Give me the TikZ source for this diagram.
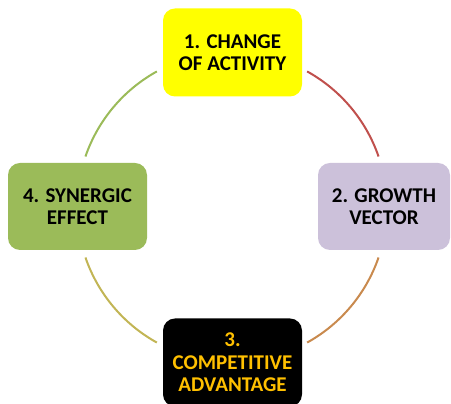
\documentclass[tikz,border=0pt]{standalone}
\usepackage{fontspec}
\setmainfont{Carlito}
\usetikzlibrary{calc}

\definecolor{boxyellow}{HTML}{FFFF00}
\definecolor{boxlilac}{HTML}{CCC1DA}
\definecolor{boxgreen}{HTML}{9BBB59}
\definecolor{textgold}{HTML}{FFC000}
\definecolor{arcred}{HTML}{C0504D}
\definecolor{arcorange}{HTML}{C98A4E}
\definecolor{arcolive}{HTML}{C2B555}
\definecolor{arcgreen}{HTML}{9BBB59}

\tikzset{
  stagebox/.style={rectangle, rounded corners=12pt, inner sep=0pt,
    align=center, font=\bfseries\fontsize{21}{22.5}\selectfont,
    minimum width=139pt, minimum height=88pt},
  ringarc/.style={line width=2pt}
}

\begin{document}
\begin{tikzpicture}[x=1pt,y=1pt]
  \useasboundingbox (0,0) rectangle (451,404);

  % centre of the ring
  \coordinate (ctr) at (232,197);

  % the four stages
  \node[stagebox, fill=boxyellow] (s1) at (232.5,351.5) {1. CHANGE\\OF ACTIVITY};
  \node[stagebox, fill=boxlilac, minimum width=132pt, minimum height=87pt] (s2) at (384,197.5) {2. GROWTH\\VECTOR};
  \node[stagebox, fill=black, text=textgold] (s3) at (232.5,41.5) {3.\\COMPETITIVE\\ADVANTAGE};
  \node[stagebox, fill=boxgreen, minimum height=87pt] (s4) at (77.5,197.5) {4. SYNERGIC\\EFFECT};

  % arc end points on the ring
  \coordinate (a12) at ($(ctr)+(61:155)$);
  \coordinate (a23) at ($(ctr)+(-19:155)$);
  \coordinate (a34) at ($(ctr)+(-119:155)$);
  \coordinate (a41) at ($(ctr)+(161:155)$);

  % connecting arcs
  \draw[ringarc, arcred]    (a12) arc[start angle=61,   end angle=19,   radius=155];
  \draw[ringarc, arcorange] (a23) arc[start angle=-19,  end angle=-61,  radius=155];
  \draw[ringarc, arcolive]  (a34) arc[start angle=-119, end angle=-161, radius=155];
  \draw[ringarc, arcgreen]  (a41) arc[start angle=161,  end angle=119,  radius=155];
\end{tikzpicture}
\end{document}
